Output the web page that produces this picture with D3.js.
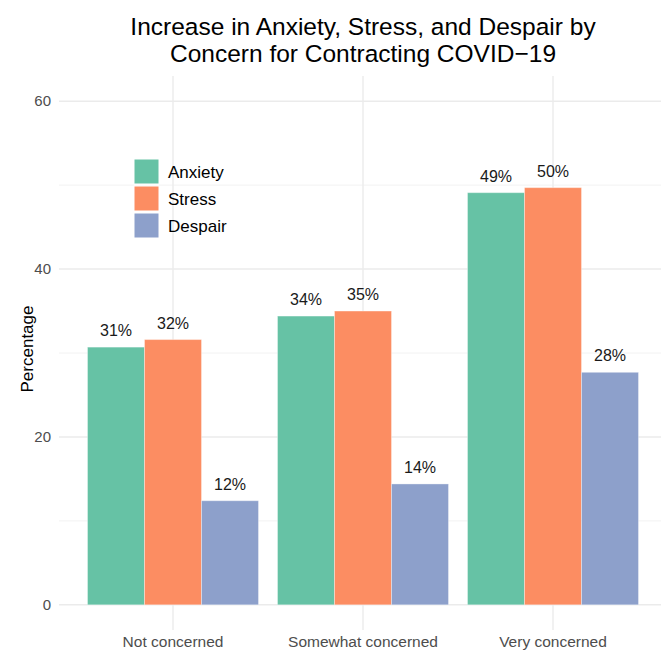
<!DOCTYPE html>
<html>
<head>
<meta charset="utf-8">
<script src="https://cdn.jsdelivr.net/npm/d3@7"></script>
<style>
  body { margin: 0; background: #fff; }
  svg { display: block; font-family: "Liberation Sans", Arial, Helvetica, sans-serif; }
</style>
</head>
<body>
<div id="chart"></div>
<script>
var categories = ["Not concerned", "Somewhat concerned", "Very concerned"];
var series = ["Anxiety", "Stress", "Despair"];
var anxiety = [30.7, 34.4, 49.1];
var stress = [31.6, 35.0, 49.7];
var despair = [12.4, 14.4, 27.7];
var yTicks = [0, 20, 40, 60];
var yMinor = [10, 30, 50];
var colors = ["#66C2A5", "#FC8D62", "#8DA0CB"];
var titleLines = ["Increase in Anxiety, Stress, and Despair by", "Concern for Contracting COVID\u221219"];

var svgW = 661, svgH = 651;
var margin = { top: 76, right: -6, bottom: 21, left: 59 };
var w = svgW - margin.left - margin.right,
    h = svgH - margin.top - margin.bottom;

var values = [anxiety, stress, despair];
var data = [];
categories.forEach(function (c, i) {
  series.forEach(function (s, j) {
    data.push({ cat: c, key: s, value: values[j][i], color: colors[j] });
  });
});

var svg = d3.select("#chart").append("svg").attr("width", svgW).attr("height", svgH);
var g = svg.append("g").attr("transform", "translate(" + margin.left + "," + margin.top + ")");

var x = d3.scaleBand().domain(categories).range([0, w]).paddingInner(0.1).paddingOuter(0.15);
var xInner = d3.scaleBand().domain(series).range([0, x.bandwidth()]);
var y = d3.scaleLinear().domain([-3, 63]).range([h, 0]);

// grid
g.selectAll(".minor").data(yMinor).enter().append("line")
  .attr("x1", 0).attr("x2", svgW - margin.left)
  .attr("y1", function (d) { return y(d); }).attr("y2", function (d) { return y(d); })
  .attr("stroke", "#f2f2f2").attr("stroke-width", 1);
g.selectAll(".major").data(yTicks).enter().append("line")
  .attr("x1", 0).attr("x2", svgW - margin.left)
  .attr("y1", function (d) { return y(d); }).attr("y2", function (d) { return y(d); })
  .attr("stroke", "#ebebeb").attr("stroke-width", 1.4);
g.selectAll(".vgrid").data(categories).enter().append("line")
  .attr("x1", function (d) { return x(d) + x.bandwidth() / 2; })
  .attr("x2", function (d) { return x(d) + x.bandwidth() / 2; })
  .attr("y1", 0).attr("y2", h)
  .attr("stroke", "#ebebeb").attr("stroke-width", 1.4);

// axes
var yAxis = d3.axisLeft(y).tickValues(yTicks).tickSize(0).tickPadding(8);
g.append("g").call(yAxis).call(function (s) {
  s.select(".domain").remove();
  s.selectAll("text").attr("font-size", 15).attr("fill", "#4d4d4d").attr("font-family", null);
});
var xAxis = d3.axisBottom(x).tickSize(0).tickPadding(6);
g.append("g").attr("transform", "translate(0," + h + ")").call(xAxis).call(function (s) {
  s.select(".domain").remove();
  s.selectAll("text").attr("font-size", 15.5).attr("fill", "#4d4d4d").attr("font-family", null);
});

// bars
g.selectAll(".bar").data(data).enter().append("rect")
  .attr("class", "bar")
  .attr("x", function (d) { return x(d.cat) + xInner(d.key); })
  .attr("width", xInner.bandwidth())
  .attr("y", function (d) { return y(d.value); })
  .attr("height", function (d) { return y(0) - y(d.value); })
  .attr("fill", function (d) { return d.color; })
  .attr("stroke", "rgba(255,255,255,0.35)").attr("stroke-width", 1);

g.selectAll(".lbl").data(data).enter().append("text")
  .attr("x", function (d) { return x(d.cat) + xInner(d.key) + xInner.bandwidth() / 2; })
  .attr("y", function (d) { return y(d.value) - 11; })
  .attr("text-anchor", "middle").attr("font-size", 16).attr("fill", "#1a1a1a")
  .text(function (d) { return Math.round(d.value) + "%"; });

// y title
svg.append("text")
  .attr("transform", "translate(33,349) rotate(-90)")
  .attr("text-anchor", "middle").attr("font-size", 17).attr("fill", "#000")
  .text("Percentage");

// title
svg.selectAll(".title").data(titleLines).enter().append("text")
  .attr("x", margin.left + w / 2).attr("y", function (d, i) { return 35 + i * 27; })
  .attr("text-anchor", "middle").attr("font-size", 24.5).attr("fill", "#000")
  .text(function (d) { return d; });

// legend
var legend = svg.append("g").attr("transform", "translate(134,159)");
var li = legend.selectAll(".li").data(series).enter().append("g")
  .attr("transform", function (d, i) { return "translate(0," + i * 27 + ")"; });
li.append("rect").attr("width", 25).attr("height", 25)
  .attr("fill", function (d, i) { return colors[i]; })
  .attr("stroke", "#fff").attr("stroke-width", 1);
li.append("text").attr("x", 34).attr("y", 19).attr("font-size", 17).attr("fill", "#000")
  .text(function (d) { return d; });
</script>
</body>
</html>
